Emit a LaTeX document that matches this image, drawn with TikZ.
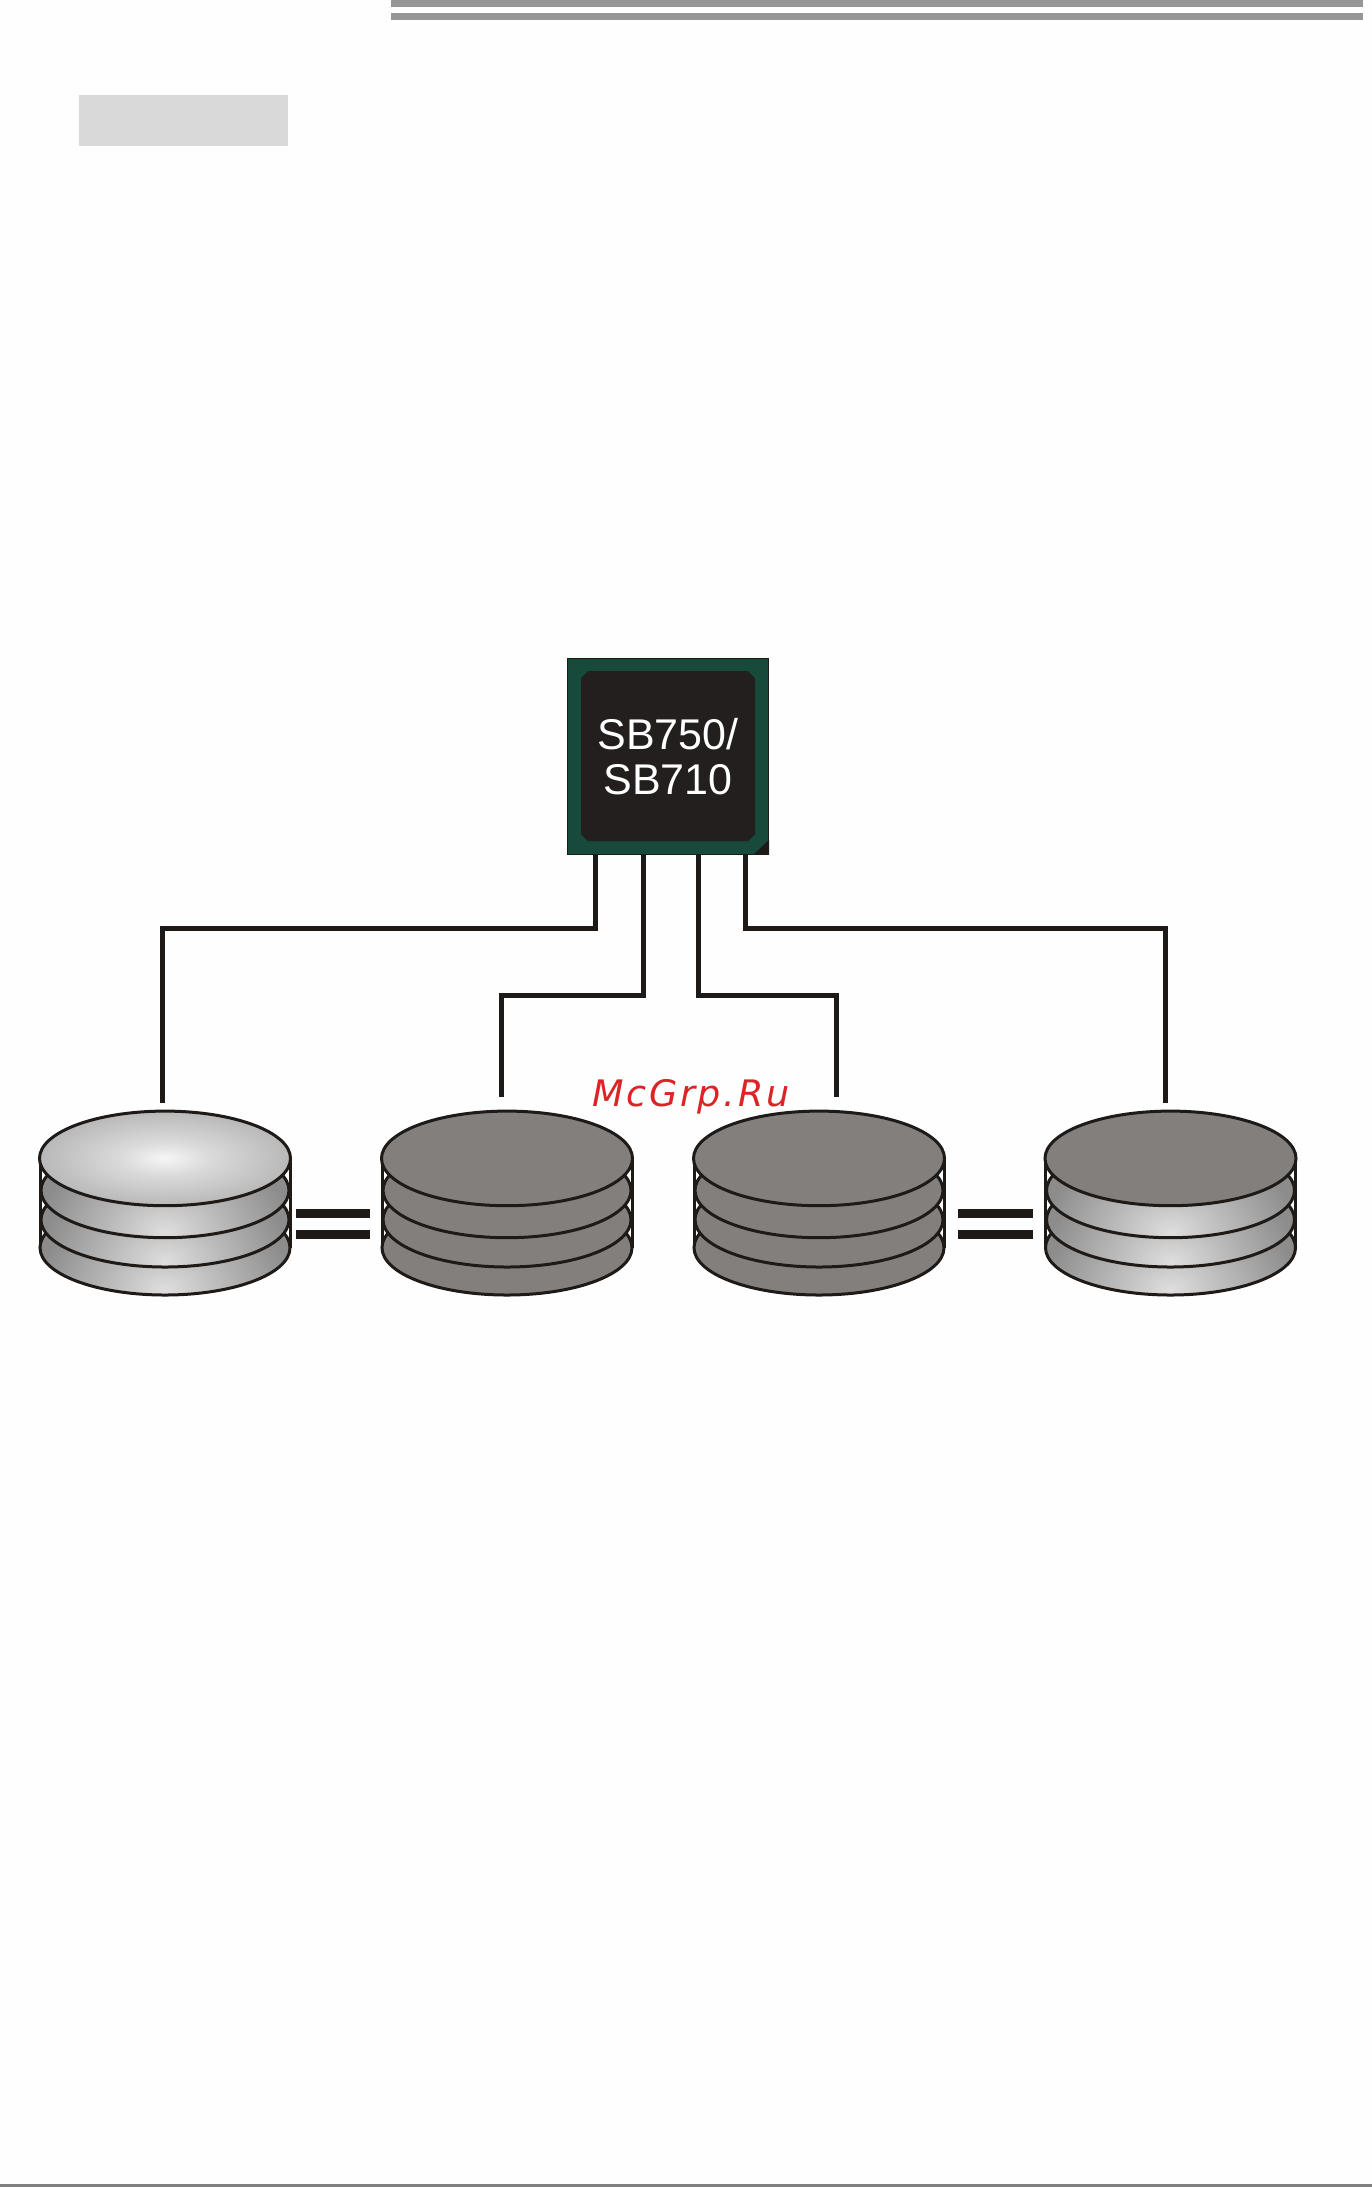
\documentclass[tikz,border=0pt]{standalone}
\usepackage{fontspec}
\setmainfont{Liberation Sans}
\newfontfamily\markfont[LetterSpace=7.5]{DejaVu Sans}
\usetikzlibrary{shapes.misc}
\definecolor{paper}{HTML}{FEFEFE}
\definecolor{rulegray}{HTML}{969696}
\definecolor{footgray}{HTML}{808080}
\definecolor{boxgray}{HTML}{D9D9D9}
\definecolor{chipgreen}{HTML}{174A3B}
\definecolor{chipblack}{HTML}{231F1E}
\definecolor{ink}{HTML}{1E1A18}
\definecolor{diskflat}{HTML}{827F7D}
\definecolor{disklight}{HTML}{DEDEDE}
\definecolor{diskedge}{HTML}{8C8C8C}
\definecolor{markred}{HTML}{DD2326}
\definecolor{topA}{HTML}{F6F6F6}
\definecolor{topB}{HTML}{DADADA}
\definecolor{topC}{HTML}{B6B6B6}
\definecolor{topD}{HTML}{8E8E8E}
\pgfdeclareradialshading{disktop}{\pgfpoint{0bp}{0bp}}{color(0bp)=(topA); color(9bp)=(topB); color(26bp)=(topC); color(50bp)=(topD); color(100bp)=(topD)}
\tikzset{
  wire/.style={draw=ink,line width=5pt,line cap=butt,line join=miter},
  diskline/.style={draw=ink,line width=3pt},
  eqbar/.style={fill=ink,draw=none},
  chipbody/.style={rectangle,draw=ink,line width=1pt,fill=chipgreen,minimum width=201pt,minimum height=196pt,inner sep=0pt},
  chipdie/.style={chamfered rectangle,chamfered rectangle xsep=3.5pt,chamfered rectangle ysep=3.5pt,fill=chipblack,minimum width=174pt,minimum height=170pt,inner sep=0pt},
  chiplabel/.style={text=white,align=center,inner sep=0pt,font=\fontsize{43}{45}\selectfont}
}
\newcommand{\flatlayer}[3]{\draw[diskline,fill=diskflat] (#1,#2) ellipse [x radius=#3,y radius=47.3];}
\newcommand{\softlayer}[3]{%
  \begin{scope}
    \clip (#1,#2) ellipse [x radius=#3,y radius=47.3];
    \fill[diskedge] (#1-130,#2-50) rectangle (#1+130,#2+50);
    \shade[inner color=disklight,outer color=diskedge] (#1,#2+42) ellipse [x radius=#3+4,y radius=90];
  \end{scope}
  \draw[diskline] (#1,#2) ellipse [x radius=#3,y radius=47.3];}
\newcommand{\diskposts}[1]{\draw[diskline] (#1-125,1158.4) -- (#1-125,1247.7) (#1+125,1158.4) -- (#1+125,1247.7);}
\begin{document}
\begin{tikzpicture}[x=1pt,y=-1pt]
\useasboundingbox (0,0) rectangle (1372,2187);
\fill[paper] (0,0) rectangle (1372,2187);
% page furniture
\fill[rulegray] (391,0) rectangle (1363,7);
\fill[rulegray] (391,13) rectangle (1363,20);
\fill[boxgray] (79,95) rectangle (288,146);
\fill[footgray] (0,2184) rectangle (1372,2187);
% chip
\node[chipbody] (chip) at (668,756) {};
\fill[ink] (754,854) -- (769,840) -- (769,854) -- cycle;
\node[chipdie] (die) at (668,756) {\phantom{SB750}};
\node[chiplabel] (chiptext) at (668,757) {SB750/\\SB710};
% connector ends
\coordinate (a1) at (595,854);  \coordinate (c1) at (162.5,928); \coordinate (e1) at (162.5,1102.7);
\coordinate (a2) at (643,854);  \coordinate (c2) at (501.5,995.5); \coordinate (e2) at (501.5,1096.7);
\coordinate (a3) at (698,854);  \coordinate (c3) at (836.5,995.5); \coordinate (e3) at (836.5,1096.7);
\coordinate (a4) at (745,854);  \coordinate (c4) at (1165.5,928); \coordinate (e4) at (1165.5,1102.7);
\draw[wire] (a1) |- (c1) -- (e1);
\draw[wire] (a2) |- (c2) -- (e2);
\draw[wire] (a3) |- (c3) -- (e3);
\draw[wire] (a4) |- (c4) -- (e4);
% disk 1
\diskposts{165}
\softlayer{165}{1247.7}{125}
\softlayer{165}{1219.7}{124}
\softlayer{165}{1190.4}{124}
\draw[diskline,shading=disktop] (165,1158.4) ellipse [x radius=125.5,y radius=47.3];
% disk 2
\diskposts{507}
\flatlayer{507}{1247.7}{125}
\flatlayer{507}{1219.7}{124}
\flatlayer{507}{1190.4}{124}
\flatlayer{507}{1158.4}{125.5}
% disk 3
\diskposts{819}
\flatlayer{819}{1247.7}{125}
\flatlayer{819}{1219.7}{124}
\flatlayer{819}{1190.4}{124}
\flatlayer{819}{1158.4}{125.5}
% disk 4
\diskposts{1170.5}
\softlayer{1170.5}{1247.7}{125}
\softlayer{1170.5}{1219.7}{124}
\softlayer{1170.5}{1190.4}{124}
\flatlayer{1170.5}{1158.4}{125.5}
% equals signs
\fill[eqbar] (296,1209) rectangle (370,1218);
\fill[eqbar] (296,1230) rectangle (370,1239);
\fill[eqbar] (958,1209) rectangle (1033,1218);
\fill[eqbar] (958,1230) rectangle (1033,1239);
% watermark
\node[anchor=base west,inner sep=0pt,text=markred,font=\markfont\itshape\fontsize{36.5}{40}\selectfont] (wm) at (592,1106.7) {McGrp.Ru};
\end{tikzpicture}
\end{document}
